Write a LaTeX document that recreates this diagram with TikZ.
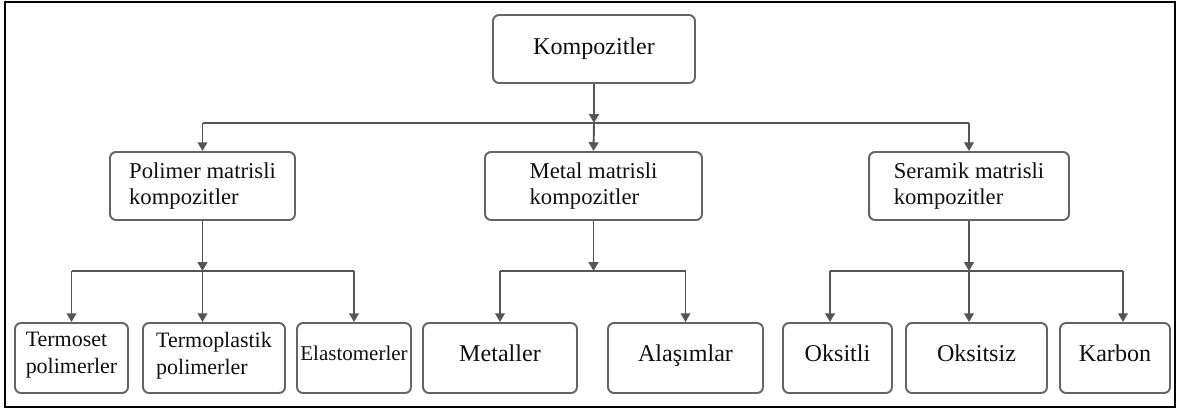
\documentclass[tikz,border=0pt]{standalone}
\usepackage{fontspec}
\setmainfont{Liberation Serif}
\usepackage{xcolor}
\usetikzlibrary{arrows.meta, positioning, calc}
\definecolor{linegray}{RGB}{85, 85, 85}
\definecolor{boxgray}{RGB}{100, 100, 100}
\definecolor{textdark}{RGB}{15, 15, 15}
\tikzset{
    x=0.02cm, y=-0.02cm,
    box/.style={rectangle, rounded corners=3.4pt, draw=boxgray, line width=1.1pt, align=left, inner sep=0pt, text=textdark},
    topbox/.style={box, minimum height=1.36cm, font=\fontsize{13.7}{16}\selectfont},
    midbox/.style={box, minimum height=1.36cm, font=\fontsize{12.9}{14.8}\selectfont},
    leafbox/.style={box, minimum height=1.4cm, text depth=0.2cm, font=\fontsize{13.7}{15.4}\selectfont},
    smallleaf/.style={leafbox, font=\fontsize{12.5}{15.4}\selectfont},
    line/.style={draw=linegray, line width=1.1pt},
    arrow/.style={line, -{Triangle[width=5.5pt, length=5pt]}},
    frame/.style={draw=black, line width=1.5pt}
}
\begin{document}
\begin{tikzpicture}

    \useasboundingbox (0,0) rectangle (1179,410);
    \draw [frame] (5,2) rectangle (1175,407);

    \node (top) [topbox, minimum width=4.04cm] at (594,49) {Kompozitler};

    \node (poly)  [midbox, minimum width=3.7cm]  at (202.5,186) {Polimer matrisli\\kompozitler};
    \node (metal) [midbox, minimum width=4.34cm] at (593.5,186) {Metal matrisli\\kompozitler};
    \node (ceram) [midbox, minimum width=4cm]    at (969,186)   {Seramik matrisli\\kompozitler};

    \node (termoset)   [smallleaf, minimum width=2.26cm] at (71.5,358)  {Termoset\\polimerler};
    \node (termoplast) [smallleaf, minimum width=2.84cm] at (214,358)   {Termoplastik\\polimerler};
    \node (elasto)     [leafbox, minimum width=2.28cm, font=\fontsize{11.95}{14}\selectfont] at (354,358) {Elastomerler};
    \node (metals)     [leafbox, minimum width=3.08cm] at (500,358)    {Metaller};
    \node (alloys)     [leafbox, minimum width=3.1cm]  at (685.5,358)  {Alaşımlar};
    \node (oxide)      [leafbox, minimum width=2.18cm] at (837.5,358)  {Oksitli};
    \node (nonoxide)   [leafbox, minimum width=2.82cm] at (976.5,358)  {Oksitsiz};
    \node (carbon)     [leafbox, minimum width=2.2cm]  at (1115,358)   {Karbon};

    % first level bus
    \coordinate (bTop) at (top.south |- 0,123);
    \draw [arrow] (top.south) -- (bTop);
    \draw [line] (poly.north |- bTop) -- (ceram.north |- bTop);
    \draw [arrow] (bTop) -- (metal.north);
    \draw [arrow] (poly.north |- bTop) -- (poly.north);
    \draw [arrow] (ceram.north |- bTop) -- (ceram.north);

    % second level buses
    \coordinate (bPoly)  at (poly.south |- 0,271);
    \coordinate (bMetal) at (metal.south |- 0,271);
    \coordinate (bCeram) at (ceram.south |- 0,271);
    \foreach \grp in {bPoly, bMetal, bCeram}
        \draw [arrow] (\grp |- poly.south) -- (\grp);

    \draw [line] (termoset.north |- bPoly) -- (elasto.north |- bPoly);
    \draw [arrow] (termoset.north |- bPoly) -- (termoset.north);
    \draw [arrow] (bPoly) -- (bPoly |- termoplast.north);
    \draw [arrow] (elasto.north |- bPoly) -- (elasto.north);

    \draw [line] (metals.north |- bMetal) -- (alloys.north |- bMetal);
    \foreach \leaf in {metals, alloys}
        \draw [arrow] (\leaf.north |- bMetal) -- (\leaf.north);

    \coordinate (oxTop) at ([xshift=-0.15cm]oxide.north);
    \coordinate (caTop) at ([xshift=0.16cm]carbon.north);
    \draw [line] (oxTop |- bCeram) -- (caTop |- bCeram);
    \draw [arrow] (oxTop |- bCeram) -- (oxTop);
    \draw [arrow] (bCeram) -- (bCeram |- nonoxide.north);
    \draw [arrow] (caTop |- bCeram) -- (caTop);

\end{tikzpicture}
\end{document}
